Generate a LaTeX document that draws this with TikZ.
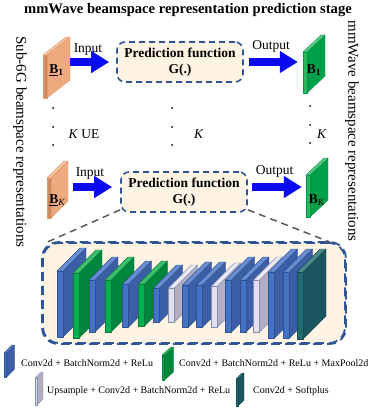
\documentclass[tikz,border=0pt]{standalone}
\usepackage{fontspec}
\setmainfont{Liberation Serif}
\usetikzlibrary{arrows.meta}
\definecolor{dblue}{HTML}{2F5597}
\definecolor{cream}{HTML}{FFF4E3}
\definecolor{arrblue}{HTML}{0A0AF0}
\definecolor{gray5}{HTML}{595959}
% layer colours: F front, S side, T top, O outline
\definecolor{blF}{HTML}{4472C4}\definecolor{blS}{HTML}{3B5EA6}\definecolor{blT}{HTML}{6A8CD2}\definecolor{blO}{HTML}{2F528F}
\definecolor{grF}{HTML}{00B050}\definecolor{grS}{HTML}{00873D}\definecolor{grT}{HTML}{3DBE6E}\definecolor{grO}{HTML}{0E7A3A}
\definecolor{lvF}{HTML}{E4DEEE}\definecolor{lvS}{HTML}{B4AEC2}\definecolor{lvT}{HTML}{EDE9F4}\definecolor{lvO}{HTML}{7F8FB0}
\definecolor{tlF}{HTML}{1F6B6E}\definecolor{tlS}{HTML}{1B5560}\definecolor{tlT}{HTML}{4E8C8C}\definecolor{tlO}{HTML}{174A52}
\definecolor{orF}{HTML}{CD8C60}\definecolor{orS}{HTML}{EFA97E}\definecolor{orT}{HTML}{F5C4A0}\definecolor{orO}{HTML}{E09A6E}
\definecolor{ogF}{HTML}{2EB560}\definecolor{ogS}{HTML}{00A04A}\definecolor{ogT}{HTML}{5CCB84}\definecolor{ogO}{HTML}{00974A}
% #1 x, #2 front top, #3 front bottom, #4 front width, #5 depth x, #6 depth y, #7 colour prefix
\newcommand\blk[7]{%
  \filldraw[fill=#7S, draw=#7O, line width=0.4pt, line join=round]
    (#1+#4,#2) -- ++(#5,-#6) -- ++(0,#3-#2) -- (#1+#4,#3) -- cycle;
  \filldraw[fill=#7T, draw=#7O, line width=0.4pt, line join=round]
    (#1,#2) -- ++(#5,-#6) -- ++(#4,0) -- (#1+#4,#2) -- cycle;
  \filldraw[fill=#7F, draw=#7O, line width=0.4pt, line join=round]
    (#1,#2) rectangle (#1+#4,#3);
}
\begin{document}
\begin{tikzpicture}[x=1pt,y=-1pt,
  pfbox/.style={draw=dblue, dash pattern=on 6pt off 4pt, line width=1.6pt,
    rounded corners=8pt, fill=cream, minimum width=126pt, minimum height=40pt,
    align=center, inner sep=0pt, font=\fontsize{13.5}{15.5}\selectfont\bfseries},
  bigbox/.style={draw=dblue, dash pattern=on 9pt off 5pt, line width=1.8pt,
    rounded corners=16pt, fill=cream, minimum width=302pt, minimum height=100pt, inner sep=0pt},
  flow/.style={line width=8pt, draw=arrblue, -{Triangle[length=18pt,width=21pt]}},
  link/.style={draw=gray5, line width=1.5pt, dash pattern=on 7pt off 5pt},
  lbl/.style={font=\fontsize{13.5}{15.5}\selectfont, inner sep=0pt, anchor=base},
  slabtxt/.style={font=\fontsize{13.5}{15.5}\selectfont, inner sep=0pt},
  side/.style={font=\fontsize{15}{17}\selectfont, inner sep=0pt, rotate=-90},
  legend/.style={font=\fontsize{10}{12}\selectfont, inner sep=0pt, anchor=base west}]
\useasboundingbox (0,0) rectangle (374,409);

% title
\node[font=\fontsize{14.6}{16}\selectfont\bfseries, inner sep=0pt] (title) at (188,10.5)
  {mmWave beamspace representation prediction stage};

% side labels
\node[side] (leftlbl) at (20,142) {Sub-6G beamspace representations};
\node[side] (rightlbl) at (352,131) {mmWave beamspace representations};

% ---------- top row ----------
\blk{43}{55}{98}{4}{23}{18}{or}
\node[slabtxt, minimum width=27pt, minimum height=56pt] (in1) at (56.5,70)
  {\underline{\textbf{B}}\textsubscript{\textbf{1}}};
\node[pfbox] (pf1) at (180,62) {Prediction function\\G(.)};
\blk{303}{52}{93}{4}{18}{17}{og}
\node[slabtxt, minimum width=22pt, minimum height=56pt] (out1) at (314,70)
  {\textbf{B}\textsubscript{\textbf{1}}};
\draw[flow, shorten >=7pt] (in1.east |- pf1.west) -- (pf1.west);
\draw[flow, shorten <=5pt, shorten >=5pt] (pf1.east) -- (out1.west |- pf1.east);
\node[lbl] (inlbl1) at (88,52.5) {Input};
\node[lbl] (outlbl1) at (271,49.5) {Output};

% ---------- dots ----------
\foreach \yy in {108,127,145} {
  \fill (53,\yy) circle (1pt);
  \fill (172,\yy) circle (1pt);
}
\foreach \yy in {106,125,143} { \fill (310,\yy) circle (1pt); }
\node[lbl] (kue) at (84,139) {\textit{K} UE};
\node[lbl] (kmid) at (199,139) {\textit{K}};
\node[lbl] (kright) at (322,139) {\textit{K}};

% ---------- bottom row ----------
\blk{47}{178}{218}{4}{17}{17}{or}
\node[slabtxt, minimum width=21pt, minimum height=56pt] (inK) at (57.5,200)
  {\underline{\textbf{B}}\textsubscript{\textit{K}}};
\node[pfbox] (pf2) at (184,192) {Prediction function\\G(.)};
\blk{306}{175}{217}{4}{18}{17}{og}
\node[slabtxt, minimum width=22pt, minimum height=56pt] (outK) at (317,200)
  {\textbf{B}\textsubscript{\textit{K}}};
\draw[flow, shorten <=5pt, shorten >=8pt] ([yshift=5pt]inK.east |- pf2.west) -- ([yshift=5pt]pf2.west);
\draw[flow, shorten <=4pt, shorten >=4pt] ([yshift=5pt]pf2.east) -- ([yshift=5pt]outK.west |- pf2.east);
\node[lbl] (inlbl2) at (90,176.5) {Input};
\node[lbl] (outlbl2) at (274.5,174.3) {Output};

% ---------- zoom box ----------
\node[bigbox] (stack) at (194,293) {};
\draw[link] ([yshift=3pt]pf2.south west) -- ([xshift=5pt]stack.north west);
\draw[link] ([yshift=3pt]pf2.south east) -- ([xshift=-16pt]stack.north east);
\draw[draw=dblue, dash pattern=on 9pt off 5pt, line width=1.8pt, rounded corners=16pt]
  (stack.north west) rectangle (stack.south east);

\blk{57}{271}{337}{6}{23}{23}{bl}
\blk{73}{273}{338}{6}{23}{23}{gr}
\blk{89}{280}{332}{6}{23}{23}{bl}
\blk{105}{280}{332}{6}{23}{23}{gr}
\blk{122.5}{284}{327}{6}{23}{23}{bl}
\blk{138.5}{284}{326}{6}{23}{23}{gr}
\blk{153.5}{288}{322}{6}{23}{23}{bl}
\blk{168.5}{288}{322}{6}{23}{23}{lv}
\blk{182.5}{285}{327}{6}{23}{23}{bl}
\blk{196.5}{285}{327}{6}{23}{23}{bl}
\blk{211.5}{286}{327}{6}{23}{23}{lv}
\blk{225.5}{280}{332}{6}{23}{23}{bl}
\blk{240}{280}{332}{6}{23}{23}{bl}
\blk{253.5}{280}{332}{6}{23}{23}{lv}
\blk{268.5}{272}{338}{6}{23}{23}{bl}
\blk{283.5}{272}{338}{6}{23}{23}{bl}
\blk{297}{272}{339}{6}{23}{23}{tl}

% ---------- legend ----------
\blk{4}{353}{377}{2.5}{8}{8}{bl}
\node[legend] (leg1) at (21,366.5) {Conv2d + BatchNorm2d + ReLu};
\blk{162}{355}{380}{2.5}{9}{8}{gr}
\node[legend] (leg2) at (179,366.5) {Conv2d + BatchNorm2d + ReLu + MaxPool2d};
\blk{35}{378}{405}{2}{6}{6}{lv}
\node[legend] (leg3) at (47,393) {Upsample + Conv2d + BatchNorm2d + ReLu};
\blk{236}{379}{406}{2}{6}{6}{tl}
\node[legend] (leg4) at (253,393) {Conv2d + Softplus};
\end{tikzpicture}
\end{document}
